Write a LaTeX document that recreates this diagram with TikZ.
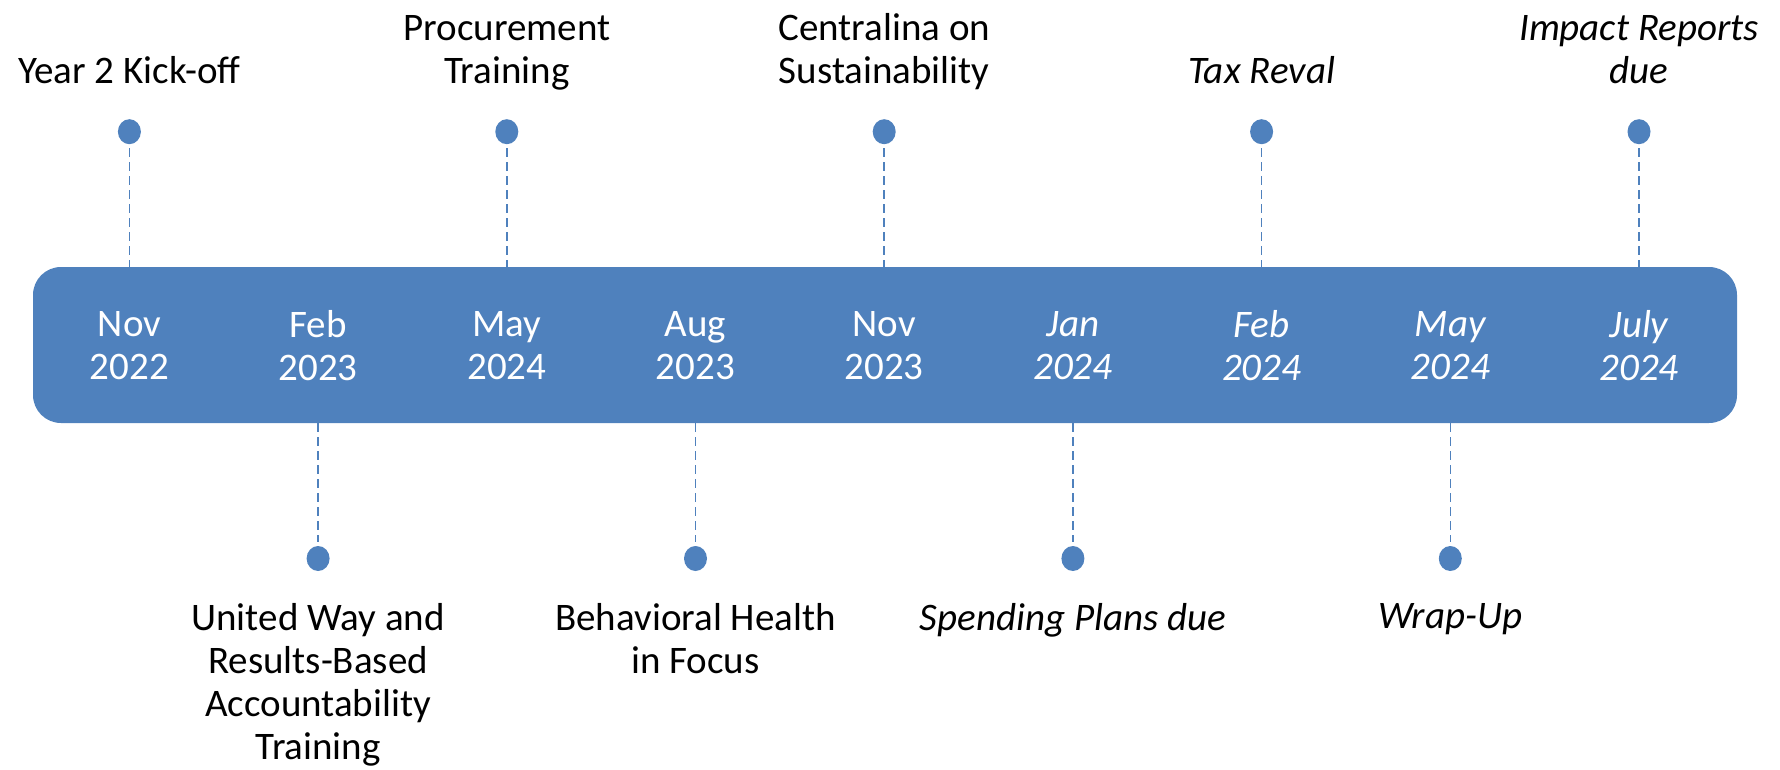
\documentclass[tikz,border=0pt]{standalone}
\usepackage{fontspec}
\setmainfont{Carlito}
\definecolor{tlblue}{HTML}{4F81BD}
\newcommand{\sk}{\rule[-9pt]{0pt}{30pt}}
\tikzset{
  lbl/.style={font=\fontsize{39}{43}\selectfont, align=center, inner sep=0pt, text=black},
  toplbl/.style={lbl, anchor=south},
  botlbl/.style={lbl, anchor=north},
  barlbl/.style={lbl, text=white, anchor=center},
  dot/.style={ellipse, fill=tlblue, minimum width=23pt, minimum height=25pt, inner sep=0pt},
  tick/.style={draw=tlblue, line width=1.6pt, dash pattern=on 9pt off 5pt},
  barbox/.style={fill=tlblue, rounded corners=28pt, minimum width=1704pt, minimum height=156pt, inner sep=0pt}
}
\usetikzlibrary{shapes.geometric}
\begin{document}
\begin{tikzpicture}[x=1pt,y=-1pt]
\useasboundingbox (0,0) rectangle (1780,770);
\node[barbox] (bar) at (885,345) {};
% bar labels
\node[barlbl] (b0) at (129.4,350) {\sk Nov\\\sk 2022};
\node[barlbl] (b1) at (318.1,350) {\sk Feb\\\sk 2023};
\node[barlbl] (b2) at (506.8,350) {\sk May\\\sk 2024};
\node[barlbl] (b3) at (695.5,350) {\sk Aug\\\sk 2023};
\node[barlbl] (b4) at (884.2,350) {\sk Nov\\\sk 2023};
\node[barlbl,font=\fontsize{39}{43}\selectfont\itshape] (b5) at (1072.9,350) {\sk Jan\\\sk 2024};
\node[barlbl,font=\fontsize{39}{43}\selectfont\itshape] (b6) at (1261.6,350) {\sk Feb\\\sk 2024};
\node[barlbl,font=\fontsize{39}{43}\selectfont\itshape] (b7) at (1450.3,350) {\sk May\\\sk 2024};
\node[barlbl,font=\fontsize{39}{43}\selectfont\itshape] (b8) at (1639.0,350) {\sk July\\\sk 2024};
% top dots
\node[dot] (d0) at (129.4,131.7) {};
\node[dot] (d2) at (506.8,131.7) {};
\node[dot] (d4) at (884.2,131.7) {};
\node[dot] (d6) at (1261.6,131.7) {};
\node[dot] (d8) at (1639.0,131.7) {};
% bottom dots
\node[dot] (d1) at (318.1,558.5) {};
\node[dot] (d3) at (695.5,558.5) {};
\node[dot] (d5) at (1072.9,558.5) {};
\node[dot] (d7) at (1450.3,558.5) {};
% ticks
\foreach \n in {d0,d2,d4,d6,d8}{
  \draw[tick] ([yshift=-4pt]\n.south) -- (\n.south |- bar.north);
}
\foreach \n in {d1,d3,d5,d7}{
  \draw[tick] (\n.north |- bar.south) -- ([yshift=4pt]\n.north);
}
% top labels
\node[toplbl] (t0) at (129.4,93) {\sk Year 2 Kick-off};
\node[toplbl] (t2) at (506.8,93) {\sk Procurement\\\sk Training};
\node[toplbl] (t4) at (884.2,93) {\sk Centralina on\\\sk Sustainability};
\node[toplbl,font=\fontsize{39}{43}\selectfont\itshape] (t6) at (1261.6,93) {\sk Tax Reval};
\node[toplbl,font=\fontsize{39}{43}\selectfont\itshape] (t8) at (1639.0,93) {\sk Impact Reports\\\sk due};
% bottom labels
\node[botlbl] (l1) at (318.1,603.5) {\sk United Way and\\\sk Results-Based\\\sk Accountability\\\sk Training};
\node[botlbl] (l3) at (695.5,603.5) {\sk Behavioral Health\\\sk in Focus};
\node[botlbl,font=\fontsize{39}{43}\selectfont\itshape] (l5) at (1072.9,603.5) {\sk Spending Plans due};
\node[botlbl,font=\fontsize{39}{43}\selectfont\itshape] (l7) at (1450.3,603.5) {\sk Wrap-Up};
\end{tikzpicture}
\end{document}
